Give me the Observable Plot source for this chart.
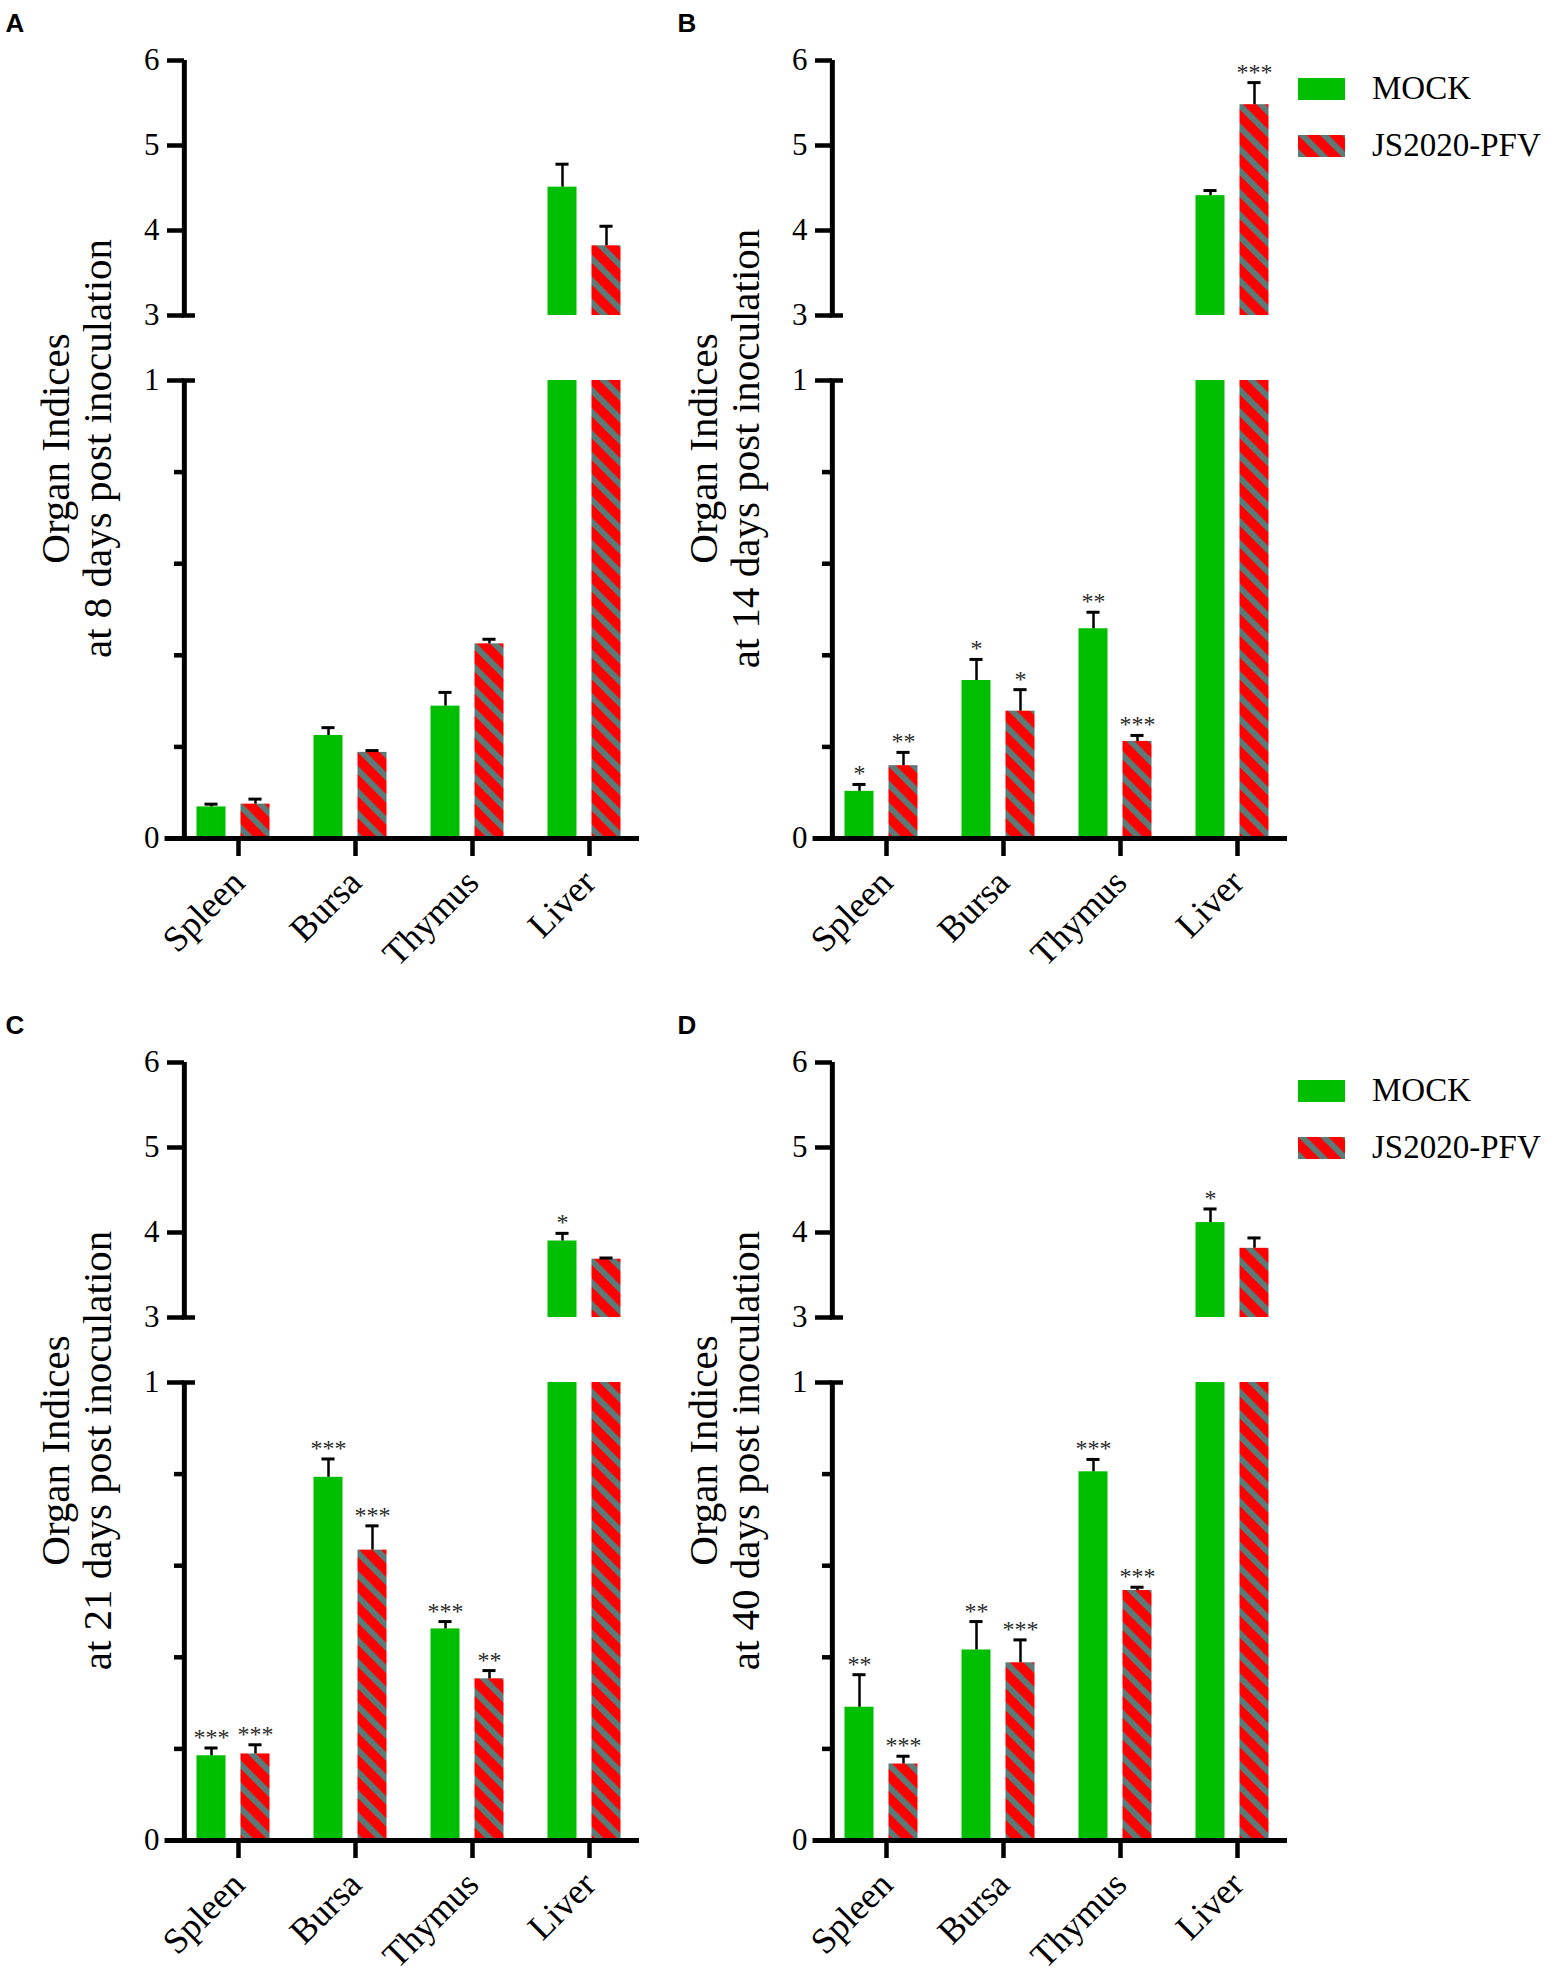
<!DOCTYPE html>
<html>
<head>
<meta charset="utf-8">
<script src="https://cdn.jsdelivr.net/npm/d3@7"></script>
<script src="https://cdn.jsdelivr.net/npm/@observablehq/plot@0.6"></script>
<style>
  html, body { margin: 0; padding: 0; background: #fff; }
  #fig { position: relative; width: 1562px; height: 1975px; overflow: hidden; }
  .panel { position: absolute; }
  .panel svg { overflow: visible; }
  #fig svg text { font-family: "Liberation Serif", "Times New Roman", serif; }
  #fig svg g.panel-letter text { font-family: "Liberation Sans", Arial, sans-serif; font-weight: bold; }
</style>
</head>
<body>
<svg width="0" height="0" style="position:absolute">
  <defs>
    <pattern id="hatch" patternUnits="userSpaceOnUse" width="15.5" height="15.5" patternTransform="rotate(-45)">
      <rect width="15.5" height="15.5" fill="#ff0000"></rect>
      <rect x="0" y="0" width="6" height="15.5" fill="#5b7b79"></rect>
    </pattern>
  </defs>
</svg>
<div id="fig"></div>
<script>
// ---------- data ----------
const categories = ["Spleen", "Bursa", "Thymus", "Liver"];
const groups = ["MOCK", "JS2020-PFV"];
const panelLetters = ["A", "B", "C", "D"];
const yTitle = "Organ Indices";
const daySubtitles = [
  "at 8 days post inoculation",
  "at 14 days post inoculation",
  "at 21 days post inoculation",
  "at 40 days post inoculation"
];
const yTicksMajor = [0, 1, 3, 4, 5, 6];
const yTicksMinor = [0.2, 0.4, 0.6, 0.8];
const yBreak = [1, 3];
const yMax = 6;

// Panel A: 8 dpi
const mockMeanA = [0.069, 0.225, 0.289, 4.51];
const mockSemA  = [0.006, 0.017, 0.030, 0.27];
const pfvMeanA  = [0.075, 0.188, 0.425, 3.82];
const pfvSemA   = [0.011, 0.004, 0.010, 0.23];
const mockStarsA = ["", "", "", ""];
const pfvStarsA  = ["", "", "", ""];

// Panel B: 14 dpi
const mockMeanB = [0.103, 0.345, 0.458, 4.41];
const mockSemB  = [0.015, 0.046, 0.036, 0.06];
const pfvMeanB  = [0.159, 0.278, 0.212, 5.48];
const pfvSemB   = [0.029, 0.047, 0.013, 0.26];
const mockStarsB = ["*", "*", "**", ""];
const pfvStarsB  = ["**", "*", "***", "***"];

// Panel C: 21 dpi
const mockMeanC = [0.185, 0.793, 0.462, 3.90];
const mockSemC  = [0.017, 0.040, 0.016, 0.09];
const pfvMeanC  = [0.189, 0.634, 0.353, 3.686];
const pfvSemC   = [0.020, 0.053, 0.018, 0.014];
const mockStarsC = ["***", "***", "***", "*"];
const pfvStarsC  = ["***", "***", "**", ""];

// Panel D: 40 dpi
const mockMeanD = [0.291, 0.416, 0.805, 4.117];
const mockSemD  = [0.071, 0.062, 0.027, 0.16];
const pfvMeanD  = [0.167, 0.388, 0.546, 3.814];
const pfvSemD   = [0.017, 0.050, 0.007, 0.122];
const mockStarsD = ["**", "**", "***", "*"];
const pfvStarsD  = ["***", "***", "***", ""];

// ---------- styling / layout ----------
const GREEN = "#00bf00";
const HATCH = "url(#hatch)";
const SERIF = "Liberation Serif, Times New Roman, serif";
const SANS = "Liberation Sans, Arial, sans-serif";
const PANEL_H = 1002;
const GROUP_OFF = 0.188;
const BAR_HALF = 0.124;
const CAP_HALF = 0.056;
const Y_AXIS_AT = -0.42;
const X_AXIS_FROM = -0.585, X_AXIS_TO = 3.47;
const BREAK_EXT = 0.095;

const panels = [
  {letter: panelLetters[0], sub: daySubtitles[0], mm: mockMeanA, ms: mockSemA, pm: pfvMeanA, ps: pfvSemA, mst: mockStarsA, pst: pfvStarsA, left: 0,   top: 0,    width: 648, letterX: 5,  legend: false},
  {letter: panelLetters[1], sub: daySubtitles[1], mm: mockMeanB, ms: mockSemB, pm: pfvMeanB, ps: pfvSemB, mst: mockStarsB, pst: pfvStarsB, left: 648, top: 0,    width: 914, letterX: 29, legend: true},
  {letter: panelLetters[2], sub: daySubtitles[2], mm: mockMeanC, ms: mockSemC, pm: pfvMeanC, ps: pfvSemC, mst: mockStarsC, pst: pfvStarsC, left: 0,   top: 1002, width: 648, letterX: 5,  legend: false},
  {letter: panelLetters[3], sub: daySubtitles[3], mm: mockMeanD, ms: mockSemD, pm: pfvMeanD, ps: pfvSemD, mst: mockStarsD, pst: pfvStarsD, left: 648, top: 1002, width: 914, letterX: 29, legend: true}
];

function buildRows(p) {
  const rows = [];
  categories.forEach((cat, i) => {
    groups.forEach((g, j) => {
      rows.push({
        cat, i, g, j,
        c: i + (j ? GROUP_OFF : -GROUP_OFF),
        mean: j ? p.pm[i] : p.mm[i],
        sem: j ? p.ps[i] : p.ms[i],
        star: j ? p.pst[i] : p.mst[i]
      });
    });
  });
  return rows;
}

function buildSegments(rows) {
  const segs = [];
  for (const r of rows) {
    if (r.mean > yBreak[0]) {
      segs.push({...r, y1: 0, y2: yBreak[0]});
      segs.push({...r, y1: yBreak[1], y2: r.mean});
    } else {
      segs.push({...r, y1: 0, y2: r.mean});
    }
  }
  return segs;
}

const fig = document.getElementById("fig");

for (const p of panels) {
  const rows = buildRows(p);
  const segs = buildSegments(rows);
  const axisSegs = [{y1: 0, y2: yBreak[0]}, {y1: yBreak[1], y2: yMax}];

  const chart = Plot.plot({
    width: p.width,
    height: PANEL_H,
    marginLeft: 184,
    marginTop: 58,
    marginBottom: 164,
    marginRight: p.width - 639,
    x: {type: "linear", domain: [-1, 4], range: [116, 701], label: null},
    y: {type: "linear", domain: [0, yBreak[0], yBreak[1], yMax], range: [838, 380, 315, 60], label: null},
    style: {fontFamily: SERIF, fontSize: "30px", color: "#000", background: "transparent", overflow: "visible"},
    marks: [
      // bars
      Plot.rectY(segs.filter(d => d.j === 0), {x1: d => d.c - BAR_HALF, x2: d => d.c + BAR_HALF, y1: "y1", y2: "y2", fill: GREEN}),
      Plot.rectY(segs.filter(d => d.j === 1), {x1: d => d.c - BAR_HALF, x2: d => d.c + BAR_HALF, y1: "y1", y2: "y2", fill: HATCH}),
      // error bars
      Plot.ruleX(rows, {x: "c", y1: "mean", y2: d => d.mean + d.sem, stroke: "#000", strokeWidth: 2.5}),
      Plot.ruleY(rows, {x1: d => d.c - CAP_HALF, x2: d => d.c + CAP_HALF, y: d => d.mean + d.sem, stroke: "#000", strokeWidth: 3}),
      // significance stars
      Plot.text(rows.filter(d => d.star), {x: "c", y: d => d.mean + d.sem, text: "star", lineAnchor: "bottom", dy: -3, fontSize: 24, fill: "#2a2a2a"}),
      // broken y axis
      Plot.ruleX(axisSegs, {x: () => Y_AXIS_AT, y1: "y1", y2: "y2", stroke: "#000", strokeWidth: 5}),
      Plot.ruleY(yBreak, {x1: () => Y_AXIS_AT - 0.02, x2: () => Y_AXIS_AT + BREAK_EXT, y: d => d, stroke: "#000", strokeWidth: 4.5}),
      Plot.axisY({anchor: "left", label: null, ticks: yTicksMajor, tickFormat: d => String(d), tickSize: 17, tickPadding: 8, strokeWidth: 4.5, fontSize: 31}),
      Plot.axisY({anchor: "left", label: null, ticks: yTicksMinor, tickFormat: () => "", tickSize: 10, strokeWidth: 4.5}),
      // x axis
      Plot.ruleY([0], {x1: () => X_AXIS_FROM, x2: () => X_AXIS_TO, stroke: "#000", strokeWidth: 5}),
      Plot.axisX({anchor: "bottom", label: null, ticks: [0, 1, 2, 3], tickFormat: i => categories[i], tickSize: 18, tickPadding: 20, dx: 5, tickRotate: -45, strokeWidth: 4.5, fontSize: 36}),
      // y-axis titles
      Plot.text([yTitle], {text: d => d, frameAnchor: "left", rotate: -90, dx: 68 - 184, lineAnchor: "bottom", textAnchor: "middle", fontSize: 41}),
      Plot.text([p.sub], {text: d => d, frameAnchor: "left", rotate: -90, dx: 110 - 184, lineAnchor: "bottom", textAnchor: "middle", fontSize: 41}),
      // panel letter
      Plot.text([p.letter], {text: d => d, className: "panel-letter", frameAnchor: "top-left", dx: p.letterX - 184, dy: 31 - 58, lineAnchor: "bottom", textAnchor: "start", fontSize: 26, fontWeight: "bold"})
    ]
  });

  const wrap = document.createElement("div");
  wrap.className = "panel";
  wrap.style.left = p.left + "px";
  wrap.style.top = p.top + "px";
  wrap.appendChild(chart);
  fig.appendChild(wrap);

  if (p.legend) {
    const legend = d3.create("svg")
      .attr("width", 280).attr("height", 110)
      .style("position", "absolute")
      .style("left", (p.left + 650) + "px")
      .style("top", (p.top + 70) + "px")
      .style("overflow", "visible");
    const items = [
      {label: groups[0], fill: GREEN, y: 8},
      {label: groups[1], fill: HATCH, y: 65}
    ];
    const g = legend.selectAll("g").data(items).join("g")
      .attr("transform", d => `translate(0,${d.y})`);
    g.append("rect").attr("width", 47).attr("height", 22).attr("fill", d => d.fill);
    g.append("text").attr("x", 74).attr("y", 21)
      .attr("font-size", 33).attr("fill", "#000")
      .text(d => d.label);
    fig.appendChild(legend.node());
  }
}
</script>
</body>
</html>
